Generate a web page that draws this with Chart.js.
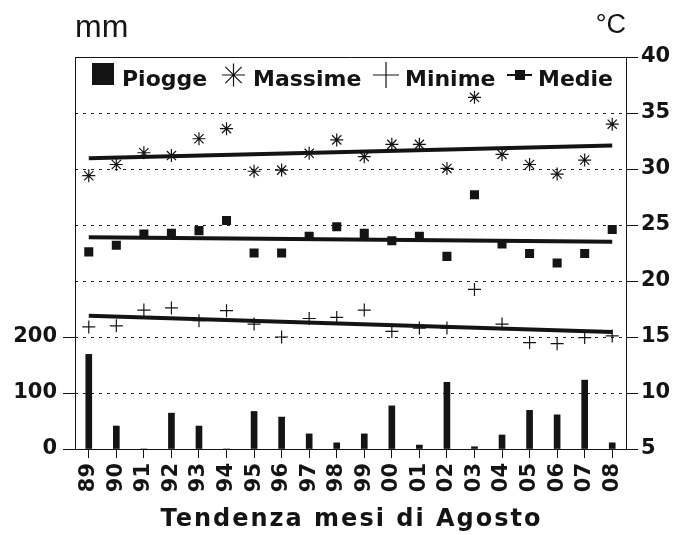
<!DOCTYPE html>
<html lang="it">
<head>
<meta charset="utf-8">
<title>Tendenza mesi di Agosto</title>
<script src="https://cdn.jsdelivr.net/npm/chart.js@4.4.1/dist/chart.umd.min.js"></script>
<style>
  html, body { margin: 0; padding: 0; background: #fff; }
</style>
</head>
<body>
<canvas id="graficaAgosto" width="674" height="535"></canvas>
<script>
// Dati (agosto 1989-2008)
const anni = ['89','90','91','92','93','94','95','96','97','98','99','00','01','02','03','04','05','06','07','08'];
const piogge = [169, 41, 0, 64, 41, 0, 67, 57, 27, 11, 27, 77, 7, 119, 4, 25, 69, 61, 123, 11];
const massime = [29.4, 30.4, 31.45, 31.2, 32.7, 33.6, 29.8, 29.9, 31.4, 32.6, 31.1, 32.2, 32.2, 30.05, 36.4, 31.3, 30.4, 29.55, 30.8, 34.0];
const minime = [15.9, 16.0, 17.4, 17.6, 16.45, 17.35, 16.15, 15.0, 16.65, 16.75, 17.4, 15.5, 15.8, 15.8, 19.25, 16.15, 14.5, 14.4, 14.95, 15.1];
const medie = [22.6, 23.2, 24.2, 24.25, 24.5, 25.4, 22.5, 22.5, 24.0, 24.85, 24.25, 23.6, 24.0, 22.2, 27.7, 23.3, 22.45, 21.6, 22.45, 24.6];

// Linee di tendenza: valori agli estremi (89 e 08)
const tendMassime = [30.95, 32.1];
const tendMedie = [23.9, 23.5];
const tendMinime = [16.9, 15.45];

const tickPiogge = [0, 100, 200];
const tickTemp = { min: 5, max: 40, passo: 5 };
const mmMax = 700;

const nero = '#141414';
const fontTick = { family: '"DejaVu Sans"', size: 21, weight: 'bold' };

// serie con solo primo e ultimo punto, il resto vuoto
function estremi(coppia) {
    return anni.map((a, i) => i === 0 ? coppia[0] : (i === anni.length - 1 ? coppia[1] : null));
}

function lineaTendenza(coppia) {
    return {
        type: 'line',
        data: estremi(coppia),
        yAxisID: 'temp',
        borderColor: nero,
        borderWidth: 4,
        pointRadius: 0,
        spanGaps: true,
        order: 1
    };
}

function punti(valori, stile, raggio) {
    return {
        type: 'line',
        data: valori,
        yAxisID: 'temp',
        showLine: false,
        pointStyle: stile,
        pointRadius: raggio,
        pointBorderColor: nero,
        pointBackgroundColor: nero,
        pointBorderWidth: stile === 'rect' ? 0 : 1.2,
        order: 0
    };
}

// Cornice superiore, unità, titolo e legenda dentro l'area del grafico
const decorazioni = {
    id: 'decorazioni',
    afterDraw(chart) {
        const { ctx, chartArea: a } = chart;
        ctx.save();
        ctx.strokeStyle = nero;
        ctx.fillStyle = nero;
        ctx.lineWidth = 1;
        ctx.beginPath();
        ctx.moveTo(a.left, a.top + 0.5);
        ctx.lineTo(a.right, a.top + 0.5);
        ctx.stroke();

        ctx.textBaseline = 'alphabetic';
        ctx.font = '32px "Liberation Sans"';
        ctx.textAlign = 'left';
        ctx.fillText('mm', a.left, 37);
        ctx.font = '27px "Liberation Sans"';
        ctx.textAlign = 'right';
        ctx.fillText('°C', a.right, 33);

        ctx.font = 'bold 24px "DejaVu Sans"';
        ctx.letterSpacing = '2px';
        ctx.textAlign = 'center';
        ctx.fillText('Tendenza mesi di Agosto', (a.left + a.right) / 2 + 1, 526);
        ctx.letterSpacing = '0px';

        // legenda
        const yc = 75;
        ctx.fillRect(92, 63, 22, 22);

        ctx.lineWidth = 1.2;
        let cx = 233.5, r = 11.5, d = r * Math.SQRT1_2;
        ctx.beginPath();
        ctx.moveTo(cx - r, yc); ctx.lineTo(cx + r, yc);
        ctx.moveTo(cx, yc - r); ctx.lineTo(cx, yc + r);
        ctx.moveTo(cx - d, yc - d); ctx.lineTo(cx + d, yc + d);
        ctx.moveTo(cx - d, yc + d); ctx.lineTo(cx + d, yc - d);
        ctx.stroke();

        cx = 386; r = 13;
        ctx.beginPath();
        ctx.moveTo(cx - r, yc); ctx.lineTo(cx + r, yc);
        ctx.moveTo(cx, yc - r); ctx.lineTo(cx, yc + r);
        ctx.stroke();

        ctx.lineWidth = 2;
        ctx.beginPath();
        ctx.moveTo(507, yc); ctx.lineTo(532, yc);
        ctx.stroke();
        ctx.fillRect(515, yc - 5, 10, 10);

        ctx.font = 'bold 22px "DejaVu Sans"';
        ctx.textAlign = 'left';
        ctx.fillText('Piogge', 122, 86);
        ctx.fillText('Massime', 253, 86);
        ctx.fillText('Minime', 405, 86);
        ctx.fillText('Medie', 538, 86);
        ctx.restore();
    }
};

const ctx = document.getElementById('graficaAgosto').getContext('2d');
const grafico = new Chart(ctx, {
    data: {
        labels: anni,
        datasets: [
            punti(massime, 'star', 6.5),
            punti(minime, 'cross', 6.5),
            punti(medie, 'rect', 6.4),
            lineaTendenza(tendMassime),
            lineaTendenza(tendMedie),
            lineaTendenza(tendMinime),
            {
                type: 'bar',
                data: piogge,
                yAxisID: 'mm',
                backgroundColor: nero,
                barThickness: 6,
                order: 2
            }
        ]
    },
    options: {
        responsive: false,
        animation: false,
        events: [],
        layout: { padding: { top: 57, left: 0, right: 0, bottom: 0 } },
        plugins: {
            legend: { display: false },
            tooltip: { enabled: false }
        },
        scales: {
            x: {
                type: 'category',
                offset: true,
                grid: { offset: false, drawOnChartArea: false, tickLength: 9, tickColor: nero },
                border: { color: nero, width: 1 },
                ticks: { color: nero, font: fontTick, minRotation: 90, maxRotation: 90, autoSkip: false, padding: 5 },
                afterFit(s) { s.height = 86; }
            },
            mm: {
                type: 'linear',
                position: 'left',
                min: 0,
                max: mmMax,
                afterBuildTicks(s) { s.ticks = tickPiogge.map(v => ({ value: v })); },
                grid: { drawOnChartArea: false, tickLength: 12, tickColor: nero },
                border: { color: nero, width: 1 },
                ticks: { color: nero, font: fontTick, padding: 6 },
                afterFit(s) { s.width = 75; }
            },
            temp: {
                type: 'linear',
                position: 'right',
                min: tickTemp.min,
                max: tickTemp.max,
                ticks: { stepSize: tickTemp.passo, color: nero, font: fontTick, padding: 3 },
                grid: { color: '#222', lineWidth: 1, tickLength: 12, tickColor: nero, tickBorderDash: [] },
                border: { color: nero, width: 1, dash: [3, 5] },
                afterFit(s) { s.width = 48; }
            }
        }
    },
    plugins: [decorazioni]
});
</script>
</body>
</html>
